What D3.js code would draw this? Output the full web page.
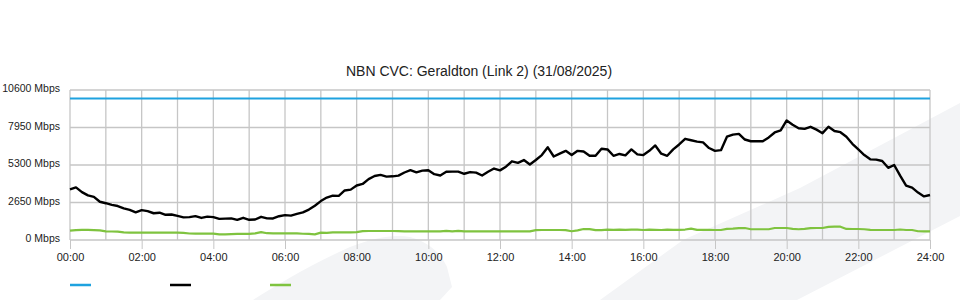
<!DOCTYPE html>
<html>
<head>
<meta charset="utf-8">
<script src="https://cdn.jsdelivr.net/npm/d3@7"></script>
<style>
  body { margin: 0; background: #fff; }
  svg { display: block; font-family: "Liberation Sans", Arial, sans-serif; }
  .grid line { stroke: #c6c6c6; stroke-width: 1.3; }
  .axis text { fill: #222; font-size: 11px; }
  .y-axis text { font-size: 10.5px; }
  .axis line { stroke: #c6c6c6; }
  .axis path { display: none; }
</style>
</head>
<body>
<div id="chartContainer"></div>
<script>
// minutes since midnight, one sample every 10 minutes
const stepMinutes = 10;
const times = d3.range(0, 24 * 60 + 1, stepMinutes);

// traffic (Mbps), one row per hour
const trafficValues = [
  3580, 3720, 3380, 3150, 3050, 2700,
  2600, 2480, 2400, 2240, 2130, 1960,
  2110, 2040, 1890, 1930, 1780, 1800,
  1700, 1600, 1620, 1690, 1560, 1650,
  1620, 1490, 1510, 1530, 1420, 1570,
  1430, 1450, 1640, 1530, 1520, 1680,
  1760, 1720, 1840, 1950, 2150, 2420,
  2750, 3000, 3130, 3120, 3500, 3560,
  3850, 3960, 4300, 4520, 4600, 4480,
  4500, 4550, 4770, 4930, 4780, 4900,
  4930, 4650, 4560, 4820, 4830, 4830,
  4680, 4800, 4760, 4560, 4820, 5050,
  4920, 5180, 5560, 5450, 5650, 5330,
  5650, 6000, 6550, 5900, 6100, 6300,
  6000, 6300, 6250, 5950, 5950, 6450,
  6400, 5950, 6080, 5980, 6400, 6050,
  6000, 6300, 6680, 6100, 5950, 6400,
  6750, 7150, 7050, 6950, 6900, 6500,
  6300, 6350, 7300, 7450, 7500, 7100,
  6980, 6990, 6980, 7250, 7600, 7750,
  8450, 8150, 7900, 7850, 8000, 7800,
  7550, 8000, 7700, 7620, 7300, 6800,
  6400, 6000, 5700, 5680, 5580, 5100,
  5300, 4550, 3850, 3700, 3350, 3080,
  3180
];

// second series (Mbps), one row per hour
const lowValues = [
  660, 700, 710, 710, 700, 680,
  610, 600, 590, 540, 520, 520,
  520, 520, 520, 520, 520, 520,
  520, 510, 460, 450, 450, 450,
  450, 400, 400, 420, 430, 440,
  430, 470, 560, 480, 470, 470,
  470, 470, 470, 440, 430, 400,
  520, 500, 540, 540, 540, 545,
  560, 630, 636, 636, 636, 636,
  636, 630, 612, 612, 612, 612,
  612, 612, 612, 640, 612, 640,
  612, 612, 612, 612, 612, 612,
  612, 612, 612, 612, 612, 612,
  700, 707, 707, 707, 707, 700,
  620, 680, 777, 770, 700, 700,
  730, 720, 730, 710, 730, 730,
  707, 730, 720, 707, 730, 720,
  720, 740, 800, 720, 720, 720,
  707, 707, 790, 810, 840, 848,
  760, 760, 760, 760, 848, 848,
  848, 790, 760, 790, 840, 848,
  848, 930, 942, 940, 780, 777,
  777, 760, 710, 707, 707, 707,
  707, 740, 707, 707, 620, 612,
  612
];

// link capacity (Mbps) at start and end of day
const capacityTimes = [0, 24 * 60];
const capacityValues = [10000, 10000];

const yTicks = [0, 2650, 5300, 7950, 10600];
const xLabelTicks = d3.range(0, 24 * 60 + 1, 120);
const xGridTicks = d3.range(0, 24 * 60 + 1, 60);

const title = "NBN CVC: Geraldton (Link 2) (31/08/2025)";
const colors = { capacity: "#1ea2df", traffic: "#000000", low: "#7fc33f" };

const width = 960, height = 300;
const margin = { top: 90, right: 30, bottom: 60, left: 70 };

const svg = d3.select("#chartContainer")
  .append("svg")
  .attr("width", width)
  .attr("height", height);

// faint background watermark
const mark = svg.append("g").attr("fill", "#f3f4f6");
mark.append("path")
  .attr("d", "M253,300 C280,283 310,265 350,247 C375,237 395,234 410,237 C428,242 440,252 447,267 L452,287 L440,300 Z");
mark.append("path")
  .attr("d", "M600,300 L683,240 L800,188 L960,103 L960,216 L797,300 Z");

const x = d3.scaleLinear()
  .domain([0, 24 * 60])
  .range([margin.left, width - margin.right]);

const y = d3.scaleLinear()
  .domain([0, 10600])
  .range([height - margin.bottom, margin.top]);

const grid = svg.append("g").attr("class", "grid");

grid.selectAll(".hline")
  .data(yTicks)
  .enter().append("line")
    .attr("x1", x.range()[0])
    .attr("x2", x.range()[1])
    .attr("y1", (d) => y(d))
    .attr("y2", (d) => y(d));

grid.selectAll(".vline")
  .data(xGridTicks)
  .enter().append("line")
    .attr("x1", (d) => x(d))
    .attr("x2", (d) => x(d))
    .attr("y1", y.range()[0])
    .attr("y2", y.range()[1]);

const hhmm = (m) => d3.format("02")(Math.floor(m / 60)) + ":00";

svg.append("g")
  .attr("class", "axis x-axis")
  .attr("transform", `translate(0, ${y(0)})`)
  .call(d3.axisBottom(x).tickValues(xLabelTicks).tickSize(9).tickPadding(4).tickFormat(hhmm));

svg.append("g")
  .attr("class", "axis y-axis")
  .attr("transform", `translate(${margin.left - 10}, -1.5)`)
  .call(d3.axisLeft(y).tickValues(yTicks).tickSize(0).tickPadding(0).tickFormat((d) => `${d} Mbps`));

svg.append("text")
  .attr("text-anchor", "middle")
  .attr("x", 479)
  .attr("y", 76)
  .attr("font-size", 14)
  .attr("fill", "#222")
  .text(title);

const line = d3.line()
  .x((d) => x(d[0]))
  .y((d) => y(d[1]));

svg.append("path")
  .datum(d3.zip(times, lowValues))
  .attr("fill", "none")
  .attr("stroke", colors.low)
  .attr("stroke-width", 2.2)
  .attr("stroke-linejoin", "round")
  .attr("d", line);

svg.append("path")
  .datum(d3.zip(capacityTimes, capacityValues))
  .attr("fill", "none")
  .attr("stroke", colors.capacity)
  .attr("stroke-width", 2)
  .attr("d", line);

svg.append("path")
  .datum(d3.zip(times, trafficValues))
  .attr("fill", "none")
  .attr("stroke", colors.traffic)
  .attr("stroke-width", 2.4)
  .attr("stroke-linejoin", "round")
  .attr("d", line);

// legend swatches (no labels in the source)
svg.append("g")
  .selectAll("line")
  .data([colors.capacity, colors.traffic, colors.low])
  .enter().append("line")
    .attr("x1", (d, i) => 70 + i * 100)
    .attr("x2", (d, i) => 91 + i * 100)
    .attr("y1", 285)
    .attr("y2", 285)
    .attr("stroke", (d) => d)
    .attr("stroke-width", 2.5);
</script>
</body>
</html>
